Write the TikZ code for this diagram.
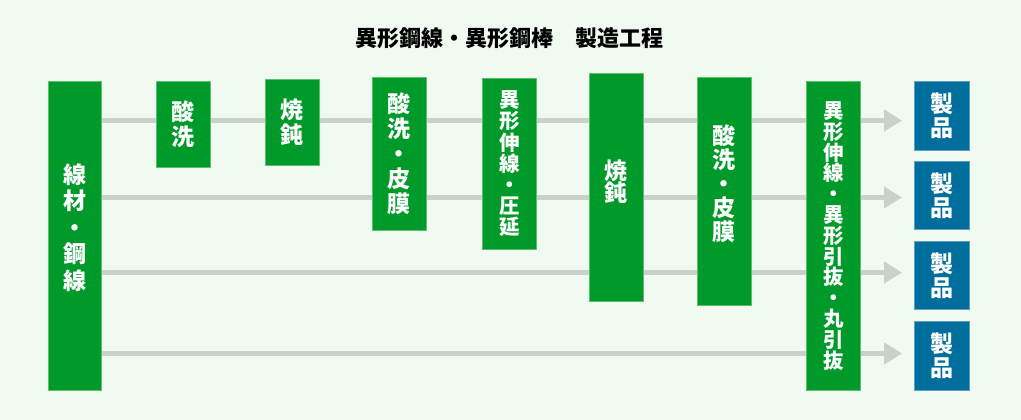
\documentclass[tikz,border=0pt]{standalone}
\usepackage{fontspec}
\setmainfont{Noto Sans CJK JP}
\usepackage{tikz}
\usetikzlibrary{arrows.meta,backgrounds,positioning}

\definecolor{bgpale}{HTML}{F1FAF1}
\definecolor{stagegreen}{HTML}{009A2A}
\definecolor{stageedge}{HTML}{5CBF70}
\definecolor{prodblue}{HTML}{006E9C}
\definecolor{prodedge}{HTML}{5CA0C0}
\definecolor{flowgray}{HTML}{C8D2C8}

\tikzset{
  stage/.style={fill=stagegreen, draw=stageedge, line width=0.8pt, text=white,
    anchor=north west, inner sep=0pt, align=center,
    font=\bfseries\fontsize{23}{25}\selectfont},
  product/.style={stage, fill=prodblue, draw=prodedge,
    minimum width=55pt, minimum height=69pt, font=\bfseries\fontsize{23}{24}\selectfont},
  flow/.style={flowgray, line width=5pt, -{Triangle[length=18pt,width=21pt]}}
}

\begin{document}
\begin{tikzpicture}[x=1pt,y=-1pt]
\useasboundingbox (0,0) rectangle (1021,420);

\node (title) at (509,38) {\bfseries\fontsize{22}{24}\selectfont 異形鋼線・異形鋼棒　製造工程};

% process stages
\node [stage, minimum width=53pt, minimum height=309pt, text depth=19pt, font=\bfseries\fontsize{23}{26.5}\selectfont] (wire) at (48,81) {線\\材\\・\\鋼\\線};
\node [stage, minimum width=54pt, minimum height=86pt] (pickle1) at (156,81) {酸\\洗};
\node [stage, minimum width=54pt, minimum height=86pt] (anneal1) at (265,79) {焼\\鈍};
\node [stage, minimum width=54pt, minimum height=153pt] (coat1) at (372,77) {酸\\洗\\・\\皮\\膜};
\node [stage, minimum width=54pt, minimum height=171pt, font=\bfseries\fontsize{20.5}{21.2}\selectfont] (draw1) at (482,78) {異\\形\\伸\\線\\・\\圧\\延};
\node [stage, minimum width=54pt, minimum height=228pt, text depth=13pt, font=\bfseries\fontsize{23}{22}\selectfont] (anneal2) at (589,73) {焼\\鈍};
\node [stage, minimum width=54pt, minimum height=228pt, text depth=17pt, font=\bfseries\fontsize{23}{24}\selectfont] (coat2) at (697,77) {酸\\洗\\・\\皮\\膜};
\node [stage, minimum width=54pt, minimum height=309pt, font=\bfseries\fontsize{20.5}{20.8}\selectfont] (draw2) at (806,81) {異\\形\\伸\\線\\・\\異\\形\\引\\抜\\・\\丸\\引\\抜};

% products
\node [product] (prod1) at (914,81) {製\\品};
\node [product, minimum height=68pt] (prod2) at (914,161) {製\\品};
\node [product, minimum height=68pt] (prod3) at (914,241) {製\\品};
\node [product] (prod4) at (914,321) {製\\品};

\coordinate (row1) at (0,120.5);
\coordinate (row2) at (0,197.5);
\coordinate (row3) at (0,272.5);
\coordinate (row4) at (0,353.5);

\begin{scope}[on background layer]
\fill [bgpale] (0,0) rectangle (1021,420);
\draw [flow] (wire.east |- row1) -- ([xshift=-12pt]prod1.west |- row1);
\draw [flow] (wire.east |- row2) -- ([xshift=-12pt]prod2.west |- row2);
\draw [flow] (wire.east |- row3) -- ([xshift=-12pt]prod3.west |- row3);
\draw [flow] (wire.east |- row4) -- ([xshift=-12pt]prod4.west |- row4);
\end{scope}
\end{tikzpicture}
\end{document}
